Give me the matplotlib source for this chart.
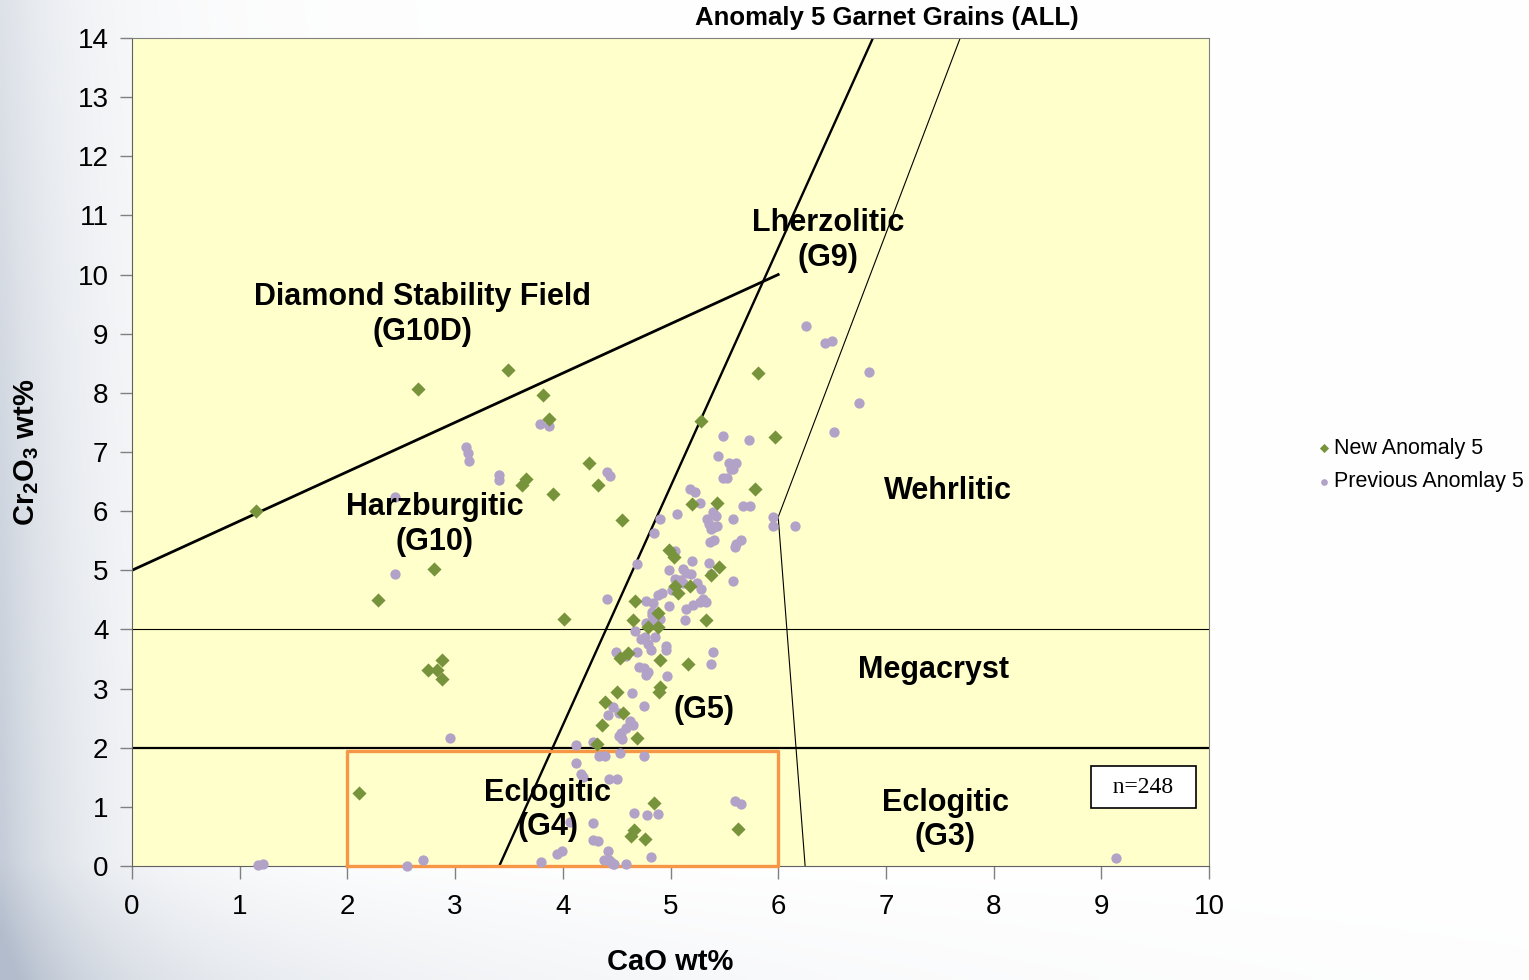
"""
Garnet classification plot (CaO vs Cr2O3) for Anomaly 5 grains.
"""

import numpy as np
import matplotlib
matplotlib.use("Agg")
import matplotlib.pyplot as plt

plt.rcParams["font.family"] = ["Liberation Sans", "DejaVu Sans"]
plt.rcParams["mathtext.fontset"] = "custom"
plt.rcParams["mathtext.rm"] = "Liberation Sans"
plt.rcParams["mathtext.bf"] = "Liberation Sans:bold"

# New Anomaly 5 grains (CaO wt%, Cr2O3 wt%)
new_cao = [1.15, 2.66, 3.49, 3.82, 3.87, 3.66, 3.62, 3.91, 4.24, 4.33, 4.55, 2.80,
           2.28, 4.01, 2.88, 2.75, 2.83, 2.88, 2.11, 5.81, 5.28, 5.97, 5.78, 5.43,
           5.20, 4.99, 5.03, 5.45, 5.38, 5.04, 5.07, 5.18, 4.67, 4.88, 4.65, 5.33,
           4.79, 4.88, 4.61, 4.53, 4.90, 5.16, 4.50, 4.90, 4.89, 4.39, 4.56, 4.36,
           4.69, 4.32, 4.85, 4.66, 4.63, 4.76, 5.63]
new_cr = [6.00, 8.07, 8.39, 7.96, 7.56, 6.54, 6.44, 6.29, 6.81, 6.44, 5.85, 5.02,
          4.50, 4.18, 3.49, 3.32, 3.32, 3.17, 1.23, 8.34, 7.52, 7.25, 6.37, 6.14,
          6.12, 5.34, 5.22, 5.06, 4.92, 4.73, 4.62, 4.74, 4.48, 4.28, 4.16, 4.16,
          4.04, 4.04, 3.60, 3.51, 3.48, 3.42, 2.95, 3.03, 2.95, 2.78, 2.58, 2.38,
          2.17, 2.07, 1.07, 0.61, 0.51, 0.45, 0.62]

# Previous Anomaly 5 grains
prev_cao = [2.44, 2.44, 3.10, 3.12, 3.13, 3.41, 3.41, 3.79, 3.87, 2.95, 1.17, 1.22,
            2.55, 2.70, 4.12, 4.28, 4.12, 4.17, 4.43, 4.50, 4.34, 4.39, 4.53, 4.66,
            4.28, 4.07, 3.99, 3.95, 3.80, 4.28, 4.33, 4.42, 4.43, 4.47, 4.19, 4.78,
            4.88, 4.38, 4.45, 4.48, 4.59, 4.82, 5.60, 5.65, 4.71, 4.75, 4.79, 4.77,
            4.97, 5.38, 4.64, 4.47, 4.52, 4.42, 4.75, 4.62, 4.65, 4.59, 4.54, 4.52,
            4.55, 4.75, 5.37, 5.40, 5.61, 5.60, 5.04, 4.69, 5.20, 5.36, 4.99, 5.12,
            5.14, 5.19, 5.04, 5.09, 5.12, 5.38, 5.25, 5.28, 5.58, 5.01, 4.92, 4.88,
            4.41, 4.77, 4.84, 4.83, 4.99, 5.14, 5.21, 5.27, 5.33, 5.30, 5.13, 4.83,
            4.89, 4.90, 4.77, 4.83, 4.67, 4.76, 4.73, 4.86, 4.79, 4.82, 4.96, 4.96,
            4.69, 4.49, 4.59, 5.39, 5.49, 5.73, 5.44, 5.54, 5.61, 5.56, 5.58, 5.49,
            5.52, 4.41, 4.44, 5.18, 5.23, 5.27, 5.67, 5.74, 5.95, 5.95, 4.90, 5.06,
            5.39, 5.42, 5.34, 5.36, 5.40, 5.43, 5.38, 5.58, 4.85, 5.65, 6.26, 6.43,
            6.50, 6.84, 6.75, 6.52, 6.16, 9.14]
prev_cr = [6.24, 4.94, 7.09, 6.98, 6.85, 6.61, 6.53, 7.48, 7.44, 2.17, 0.02, 0.03,
           0.00, 0.10, 2.05, 2.10, 1.75, 1.55, 1.47, 1.47, 1.86, 1.86, 1.91, 0.89,
           0.73, 0.75, 0.25, 0.21, 0.07, 0.44, 0.42, 0.26, 0.10, 0.04, 1.51, 0.86,
           0.88, 0.10, 0.07, 0.04, 0.04, 0.16, 1.10, 1.05, 3.37, 3.34, 3.28, 3.23,
           3.22, 3.41, 2.92, 2.69, 2.59, 2.55, 2.70, 2.46, 2.38, 2.33, 2.25, 2.20,
           2.15, 1.86, 5.48, 5.51, 5.45, 5.39, 5.33, 5.10, 5.16, 5.12, 5.00, 5.03,
           4.96, 4.93, 4.86, 4.83, 4.78, 4.93, 4.78, 4.69, 4.82, 4.67, 4.62, 4.58,
           4.51, 4.48, 4.44, 4.30, 4.40, 4.35, 4.42, 4.47, 4.47, 4.52, 4.16, 4.24,
           4.19, 4.17, 4.11, 4.09, 3.98, 3.88, 3.83, 3.88, 3.76, 3.65, 3.72, 3.65,
           3.62, 3.61, 3.55, 3.62, 7.27, 7.20, 6.93, 6.81, 6.81, 6.72, 6.72, 6.56,
           6.56, 6.67, 6.59, 6.37, 6.32, 6.13, 6.08, 6.08, 5.90, 5.75, 5.86, 5.96,
           5.99, 5.91, 5.86, 5.78, 5.74, 5.75, 5.69, 5.86, 5.63, 5.52, 9.13, 8.84,
           8.88, 8.36, 7.83, 7.33, 5.75, 0.14]

# Field boundaries (CaO, Cr2O3)
g10d_line = ([0, 6.0], [5.0, 10.0])
g10_g9_line = ([3.41, 6.88], [0.0, 14.0])
g9_g12_line = ([7.69, 6.0, 6.25], [14.0, 5.9, 0.0])
highlight_box = ([2.0, 6.0, 6.0, 2.0, 2.0], [0.0, 0.0, 1.95, 1.95, 0.0])

field_labels = [
    ("Diamond Stability Field\n(G10D)", 2.70, 9.32),
    ("Lherzolitic\n(G9)", 6.46, 10.58),
    ("Harzburgitic\n(G10)", 2.81, 5.77),
    ("Wehrlitic", 7.58, 6.34),
    ("Megacryst", 7.44, 3.31),
    ("(G5)", 5.31, 2.64),
    ("Eclogitic\n(G4)", 3.86, 0.95),
    ("Eclogitic\n(G3)", 7.55, 0.78),
]

GREEN = "#77933C"
PURPLE = "#B3A2C7"
ORANGE = "#F79646"

fig = plt.figure(figsize=(15.29, 9.8), dpi=100)

# slide-style background wash on the left / bottom
bg = fig.add_axes([0, 0, 1, 1], zorder=-10)
bg.axis("off")
yy, xx = np.mgrid[0:1:196j, 0:1:306j]
shade = (0.55 * np.exp(-xx / 0.045) + 0.25 * np.exp(-xx / 0.12)) * (0.55 + 0.45 * yy)
shade += 0.35 * np.clip((yy - 0.88) / 0.12, 0, 1) * np.exp(-xx / 0.35)
shade = np.clip(shade, 0, 1)[..., None]
base = np.array([1.0, 1.0, 1.0])
tint = np.array([0.70, 0.74, 0.80])
bg.imshow(base - shade * (base - tint), aspect="auto", extent=[0, 1, 0, 1],
          interpolation="bicubic")
bg.set_xlim(0, 1)
bg.set_ylim(0, 1)

ax = fig.add_axes([132 / 1529, 1 - 866 / 980, 1077 / 1529, 828 / 980])
ax.set_facecolor("#FFFFCC")
ax.set_xlim(0, 10)
ax.set_ylim(0, 14)
ax.set_xticks(range(0, 11))
ax.set_yticks(range(0, 15))
ax.tick_params(direction="out", length=9, width=1, colors="#808080",
               labelcolor="black", labelsize=20)
ax.tick_params(axis="y", pad=8)
ax.tick_params(axis="x", pad=11)

for side in ["top", "right"]:
    ax.spines[side].set_color("#808080")
for side in ["left", "bottom"]:
    ax.spines[side].set_color("#606060")

# boundaries
ax.plot(*g10d_line, color="black", lw=2.0, zorder=2)
ax.plot(*g10_g9_line, color="black", lw=1.7, zorder=2)
ax.plot(*g9_g12_line, color="black", lw=0.8, zorder=2)
ax.axhline(4, color="black", lw=0.8, zorder=2)
ax.axhline(2, color="black", lw=1.6, zorder=2)
ax.plot(*highlight_box, color=ORANGE, lw=2.4, zorder=3, clip_on=False)

for text, x, y in field_labels:
    ax.text(x, y, text, ha="center", va="center", fontsize=22, fontweight="bold",
            linespacing=1.2, zorder=5)

ax.text(9.39, 1.33, "  n=248  ", ha="center", va="center", fontsize=17,
        family=["Liberation Serif", "DejaVu Serif"], zorder=6,
        bbox=dict(boxstyle="square,pad=0.45", fc="white", ec="black", lw=1.2))

ax.scatter(prev_cao, prev_cr, s=55, marker="o", color=PURPLE, lw=0,
           label="Previous Anomlay 5", zorder=4, clip_on=False)
ax.scatter(new_cao, new_cr, s=52, marker="D", color=GREEN, lw=0,
           label="New Anomaly 5", zorder=4, clip_on=False)

handles, labels = ax.get_legend_handles_labels()
fig.legend(handles[::-1], labels[::-1], loc="center left",
           bbox_to_anchor=(1300 / 1529, 1 - 465 / 980), frameon=False,
           fontsize=15.5, markerscale=0.65, handlelength=0.4, handletextpad=0.3,
           labelspacing=0.6)

fig.text(887 / 1529, 1 - 18 / 980, "Anomaly 5 Garnet Grains (ALL)", ha="center",
         va="center", fontsize=18.5, fontweight="bold")
fig.text(670 / 1529, 1 - 962 / 980, "CaO wt%", ha="center", va="center",
         fontsize=21, fontweight="bold")
fig.text(27 / 1529, 1 - 452 / 980, r"Cr$_\mathbf{2}$O$_\mathbf{3}$ wt%", ha="center",
         va="center", rotation=90, fontsize=21, fontweight="bold")

fig.savefig("out.png", dpi=100)
